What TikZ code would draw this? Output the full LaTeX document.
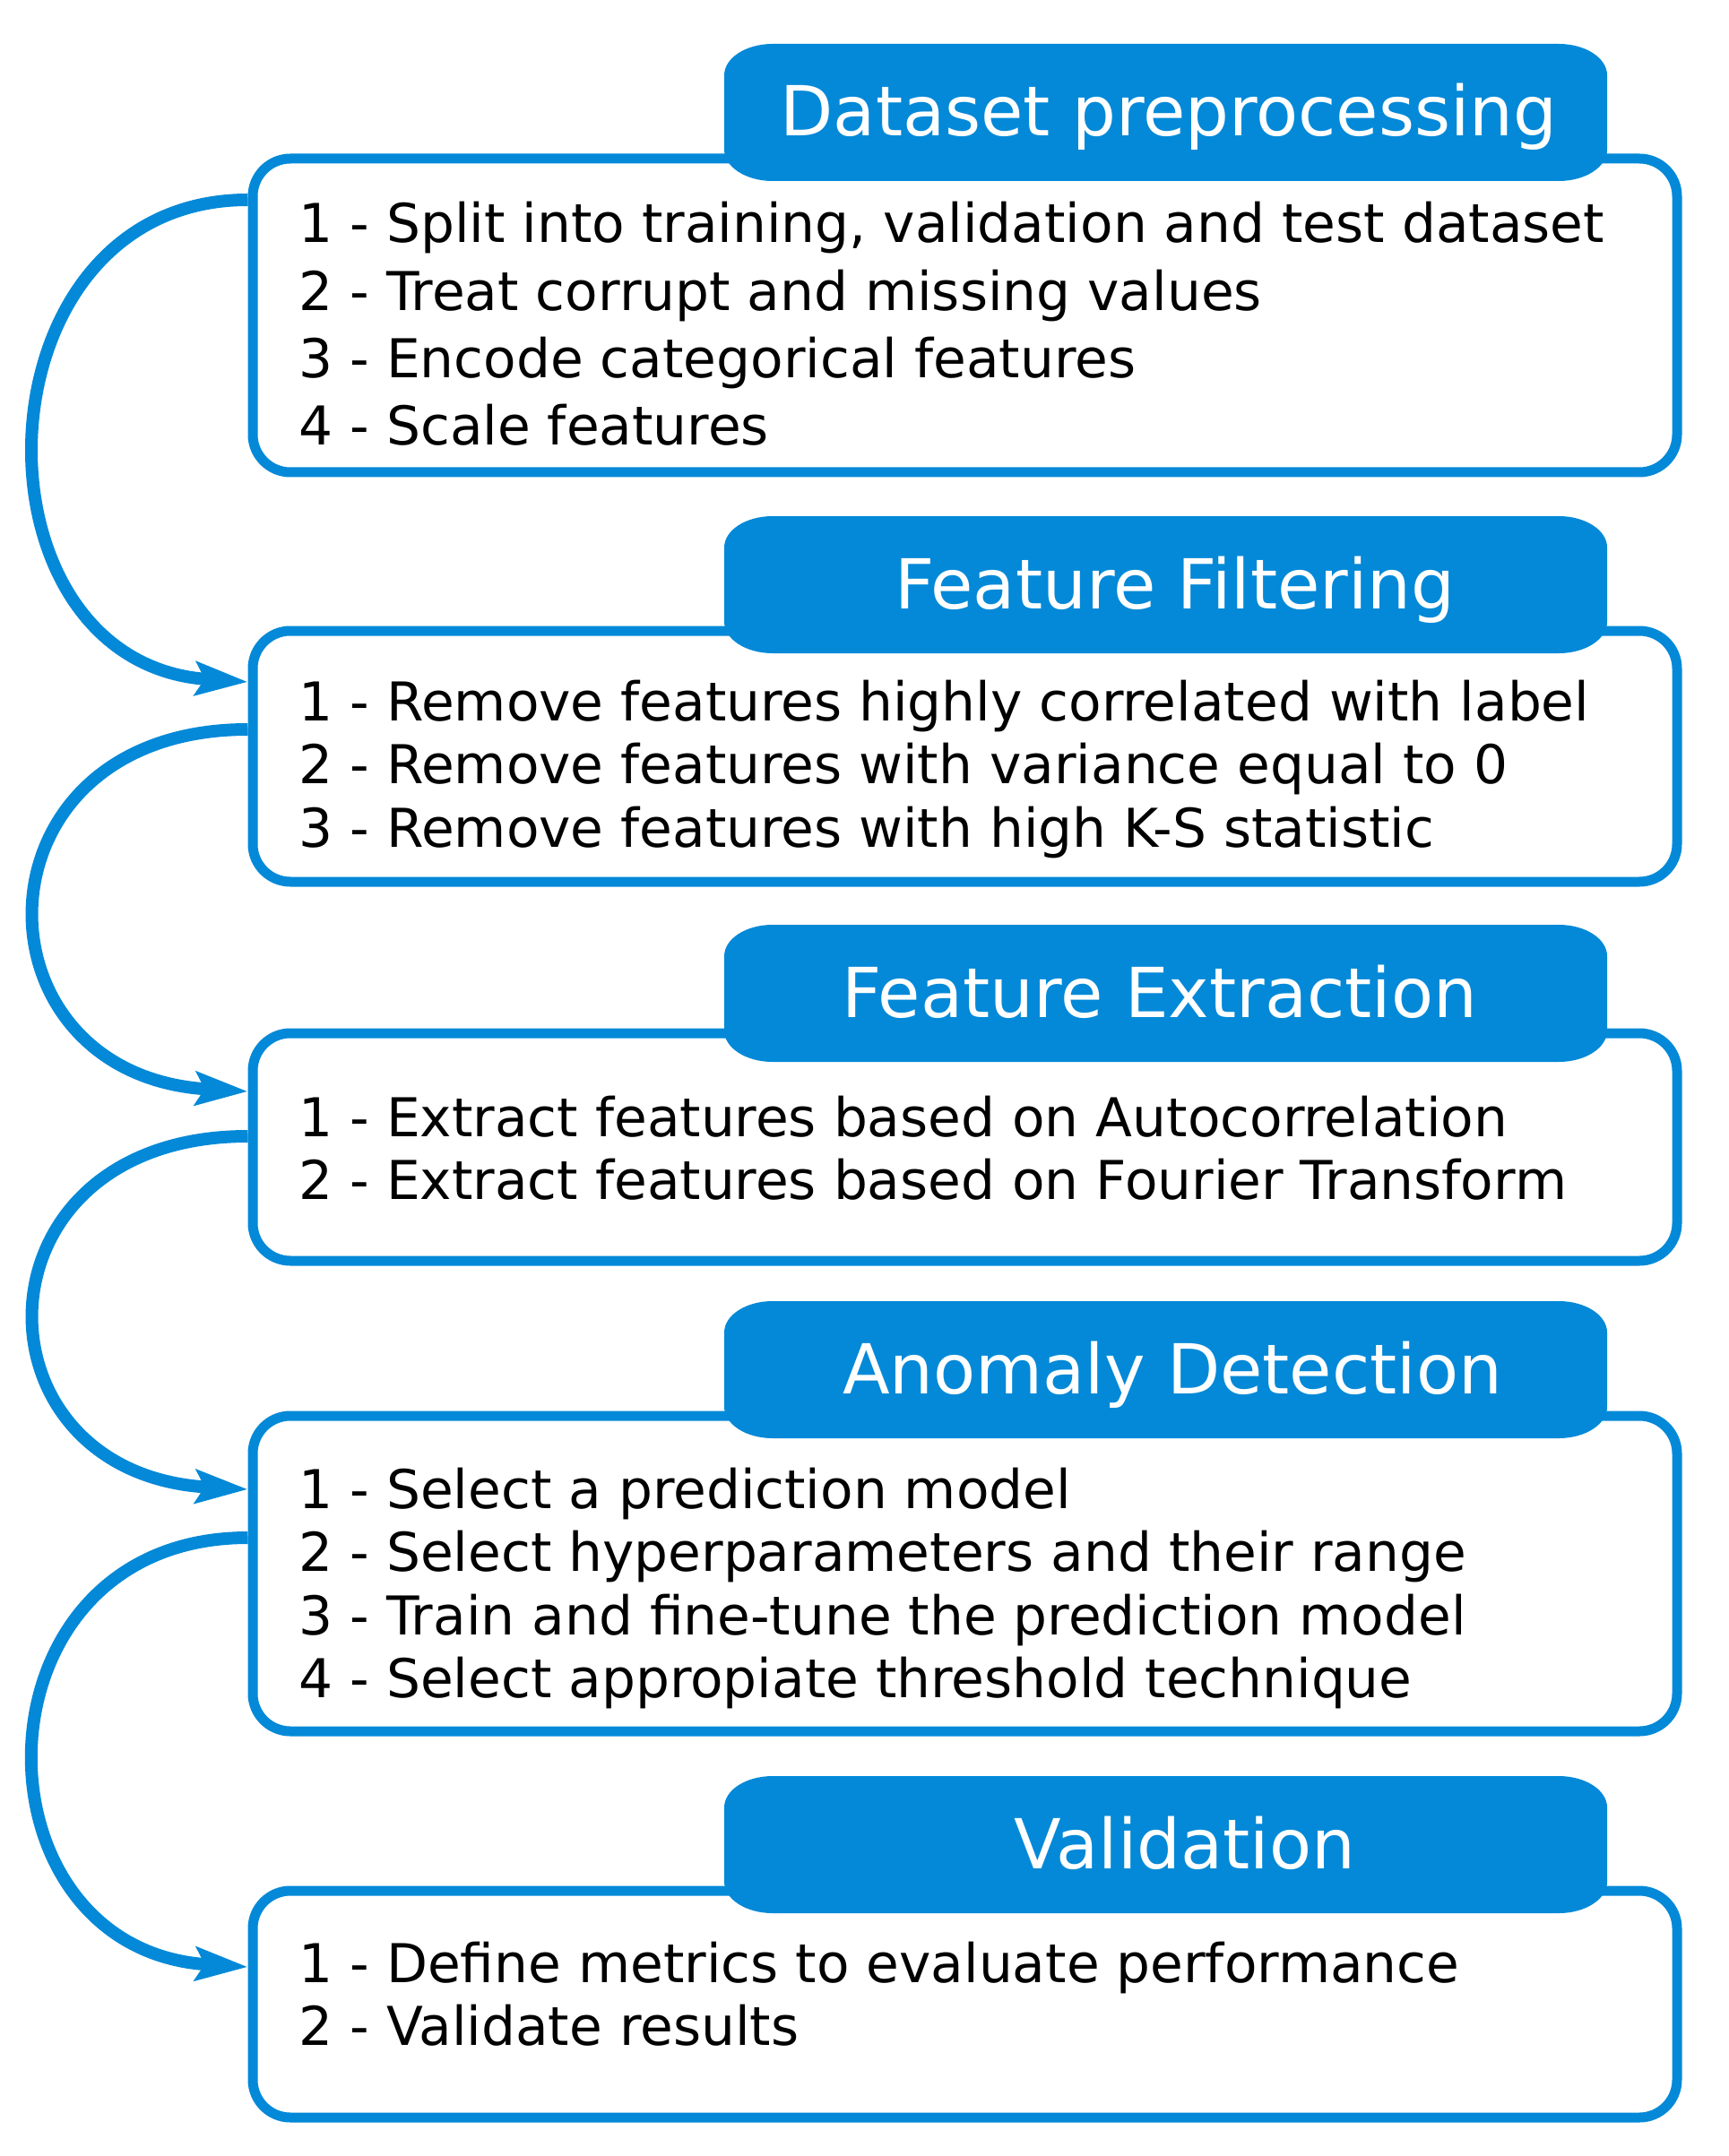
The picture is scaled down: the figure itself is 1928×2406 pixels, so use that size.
\documentclass[tikz,border=0pt]{standalone}
\usepackage{fontspec}
\setmainfont{DejaVu Sans}
\usetikzlibrary{arrows.meta}
\definecolor{mblue}{RGB}{3,137,216}
\newcommand{\hdshape}[1]{%
  \fill[mblue] ([xshift=5.4mm]#1.north west) -- ([xshift=-5.4mm]#1.north east)
    arc[start angle=90,end angle=0,x radius=5.4mm,y radius=3.5mm]
    -- ([yshift=3.5mm]#1.south east)
    arc[start angle=0,end angle=-90,x radius=5.4mm,y radius=3.5mm]
    -- ([xshift=5.4mm]#1.south west)
    arc[start angle=270,end angle=180,x radius=5.4mm,y radius=3.5mm]
    -- ([yshift=-3.5mm]#1.north west)
    arc[start angle=180,end angle=90,x radius=5.4mm,y radius=3.5mm] -- cycle;}
\begin{document}
\begin{tikzpicture}[x=0.1mm,y=-0.1mm,
  body/.style={draw=mblue, line width=1.1mm, rounded corners=4.2mm, fill=white,
    minimum width=158.9mm, inner sep=0pt},
  headbox/.style={minimum width=98.5mm, minimum height=15.3mm, inner sep=0pt, outer sep=0pt},
  title/.style={anchor=base, inner sep=0pt, text=white, font=\fontsize{21.9}{26}\selectfont},
  lines/.style={anchor=base west, inner sep=0pt, font=\fontsize{17}{20.1}\selectfont},
  arr/.style={draw=mblue, line width=1.4mm, -{Stealth[length=5.8mm,width=3.7mm,inset=1mm]}}]
\useasboundingbox (0,0) rectangle (1928,2406);

% body boxes
\node[body, minimum height=35mm]   (b1) at (1076.5,352) {};
\node[body, minimum height=28mm]   (b2) at (1076.5,844) {};
\node[body, minimum height=25.4mm] (b3) at (1076.5,1280) {};
\node[body, minimum height=35.2mm] (b4) at (1076.5,1756) {};
\node[body, minimum height=25.3mm] (b5) at (1076.5,2236.5) {};

% header shapes
\node[headbox] (h1) at (1300.5,125.5) {};
\node[headbox] (h2) at (1300.5,652.5) {};
\node[headbox] (h3) at (1300.5,1108.5) {};
\node[headbox] (h4) at (1300.5,1528.5) {};
\node[headbox] (h5) at (1300.5,2058.5) {};
\hdshape{h1}\hdshape{h2}\hdshape{h3}\hdshape{h4}\hdshape{h5}

% titles
\node[title] (t1) at (1304,152)  {Dataset preprocessing};
\node[title] (t2) at (1311,679)  {Feature Filtering};
\node[title] (t3) at (1294,1135) {Feature Extraction};
\node[title] (t4) at (1308,1555) {Anomaly Detection};
\node[title] (t5) at (1322,2085) {Validation};

% body texts
\node[lines, font=\fontsize{17}{21.4}\selectfont] (l1) at (333,271) {\begin{tabular}[t]{@{}l@{}}
1 - Split into training, validation and test dataset\\
2 - Treat corrupt and missing values\\
3 - Encode categorical features\\
4 - Scale features\end{tabular}};
\node[lines] (l2) at (333,804) {\begin{tabular}[t]{@{}l@{}}
1 - Remove features highly correlated with label\\
2 - Remove features with variance equal to 0\\
3 - Remove features with high K-S statistic\end{tabular}};
\node[lines] (l3) at (333,1268) {\begin{tabular}[t]{@{}l@{}}
1 - Extract features based on Autocorrelation\\
2 - Extract features based on Fourier Transform\end{tabular}};
\node[lines] (l4) at (333,1683) {\begin{tabular}[t]{@{}l@{}}
1 - Select a prediction model\\
2 - Select hyperparameters and their range\\
3 - Train and fine-tune the prediction model\\
4 - Select appropiate threshold technique\end{tabular}};
\node[lines] (l5) at (333,2212) {\begin{tabular}[t]{@{}l@{}}
1 - Define metrics to evaluate performance\\
2 - Validate results\end{tabular}};

% arrows
\draw[arr] (b1.west |- 0,223) .. controls (-32,223) and (-43,740) .. (b2.west |- 0,761);
\draw[arr] (b2.west |- 0,814) .. controls (-37,814) and (-37,1200) .. (b3.west |- 0,1218);
\draw[arr] (b3.west |- 0,1268) .. controls (-37,1268) and (-37,1645) .. (b4.west |- 0,1662);
\draw[arr] (b4.west |- 0,1716) .. controls (-38,1716) and (-38,2176) .. (b5.west |- 0,2195);
\end{tikzpicture}
\end{document}
